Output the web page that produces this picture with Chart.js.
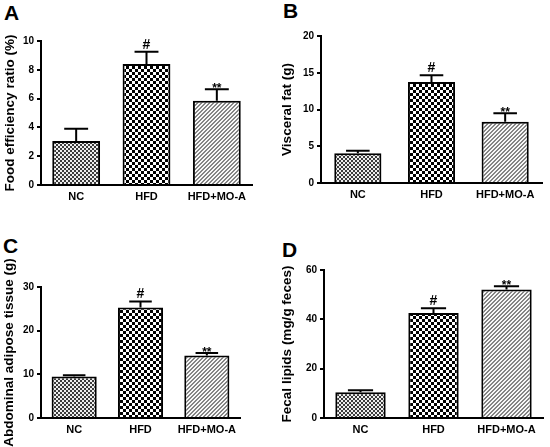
<!DOCTYPE html>
<html>
<head>
<meta charset="utf-8">
<script src="https://cdn.jsdelivr.net/npm/chart.js@4"></script>
<style>
    body { margin: 0; background: #fff; }
    #wrap { position: relative; width: 550px; height: 447px; font-family: "Liberation Sans", Arial, sans-serif; }
    .panel { position: absolute; }
    .letter { position: absolute; font-weight: bold; font-size: 21px; color: #000; }
</style>
</head>
<body>
<div id="wrap">
    <div class="letter" style="left:4px;top:1px">A</div>
    <div class="letter" style="left:283px;top:-1px">B</div>
    <div class="letter" style="left:3px;top:234px">C</div>
    <div class="letter" style="left:282px;top:238px">D</div>
    <div class="panel" style="left:0;top:0;width:275px;height:220px"><canvas id="chartA"></canvas></div>
    <div class="panel" style="left:275px;top:0;width:275px;height:220px"><canvas id="chartB"></canvas></div>
    <div class="panel" style="left:0;top:220px;width:275px;height:227px"><canvas id="chartC"></canvas></div>
    <div class="panel" style="left:275px;top:220px;width:275px;height:227px"><canvas id="chartD"></canvas></div>
</div>
<script>
// groups
const groups = ["NC", "HFD", "HFD+MO-A"];
const marks = ["", "#", "**"];

// A: food efficiency ratio
const foodEfficiency = [3.05, 8.4, 5.85];
const foodEfficiencyErr = [0.85, 0.85, 0.8];

// B: visceral fat
const visceralFat = [4.05, 13.75, 8.35];
const visceralFatErr = [0.35, 0.9, 1.15];

// C: abdominal adipose tissue
const abdominalFat = [9.5, 25.3, 14.3];
const abdominalFatErr = [0.3, 1.4, 0.6];

// D: fecal lipids
const fecalLipids = [10.4, 42.6, 52.1];
const fecalLipidsErr = [0.8, 1.9, 1.3];

function makePattern(kind) {
    let c = document.createElement("canvas");
    let g = c.getContext("2d");
    if (kind === "fine") {
        c.width = 4; c.height = 4;
        g.fillStyle = "#eeeeee"; g.fillRect(0, 0, 4, 4);
        g.fillStyle = "#3c3c3c";
        g.fillRect(0, 0, 2, 2); g.fillRect(2, 2, 2, 2);
    } else if (kind === "coarse") {
        c.width = 6; c.height = 6;
        g.fillStyle = "#ffffff"; g.fillRect(0, 0, 6, 6);
        g.fillStyle = "#000000";
        g.fillRect(0, 0, 3, 3); g.fillRect(3, 3, 3, 3);
    } else {
        c.width = 4; c.height = 4;
        g.fillStyle = "#f8f8f8"; g.fillRect(0, 0, 4, 4);
        g.fillStyle = "#858585";
        for (let x = 0; x < 4; x++) {
            for (let y = 0; y < 4; y++) {
                if ((x + y) % 4 === 3 || (x + y) % 4 === 0) g.fillRect(x, y, 1, 1);
            }
        }
    }
    return g.createPattern(c, "repeat");
}

const fills = [makePattern("fine"), makePattern("coarse"), makePattern("hatch")];

// error bars + significance marks, positioned from the chart's scales
const errorBarPlugin = {
    id: "errorBars",
    afterDatasetsDraw(chart) {
        let ctx = chart.ctx;
        let meta = chart.getDatasetMeta(0);
        let yScale = chart.scales.y;
        let errs = chart.options.plugins.errorBars.errors;
        ctx.save();
        ctx.strokeStyle = "#000";
        ctx.lineWidth = 2;
        meta.data.forEach((bar, i) => {
            let v = chart.data.datasets[0].data[i];
            let yTop = yScale.getPixelForValue(v + errs[i]);
            let half = bar.width * 0.25;
            ctx.beginPath();
            ctx.moveTo(bar.x, bar.y);
            ctx.lineTo(bar.x, yTop);
            ctx.moveTo(bar.x - half, yTop);
            ctx.lineTo(bar.x + half, yTop);
            ctx.stroke();
            if (marks[i]) {
                ctx.fillStyle = "#000";
                ctx.textAlign = "center";
                ctx.textBaseline = "alphabetic";
                if (marks[i] === "#") {
                    ctx.font = "bold 14px 'Liberation Sans', Arial, sans-serif";
                    ctx.fillText(marks[i], bar.x, yTop - 3);
                } else {
                    ctx.font = "bold 12px 'Liberation Sans', Arial, sans-serif";
                    ctx.fillText(marks[i], bar.x, yTop + 3);
                }
            }
        });
        ctx.restore();
    }
};

function buildChart(id, values, errors, yTitle, yMax, yStep, pad, axisW, axisH, barPct) {
    let ctx = document.getElementById(id).getContext("2d");
    return new Chart(ctx, {
        type: "bar",
        data: {
            labels: groups,
            datasets: [{
                data: values,
                backgroundColor: fills,
                borderColor: "#000",
                borderWidth: 2,
                borderSkipped: "bottom",
                barPercentage: barPct,
                categoryPercentage: 1
            }]
        },
        options: {
            responsive: true,
            maintainAspectRatio: false,
            animation: false,
            events: [],
            layout: { padding: pad },
            plugins: {
                legend: { display: false },
                tooltip: { enabled: false },
                errorBars: { errors: errors }
            },
            scales: {
                x: {
                    afterFit: (s) => { s.height = axisH; },
                    grid: { display: true, drawOnChartArea: false, drawTicks: false, color: "rgba(0,0,0,0)" },
                    border: { display: true, color: "#000", width: 2 },
                    ticks: {
                        color: "#000",
                        padding: 5,
                        maxRotation: 0,
                        font: { family: "'Liberation Sans', Arial, sans-serif", size: 11, weight: "bold" }
                    }
                },
                y: {
                    min: 0,
                    max: yMax,
                    afterFit: (s) => { s.width = axisW; },
                    grid: { display: true, drawOnChartArea: false, drawTicks: true, tickLength: 4, color: "#000", lineWidth: 2 },
                    border: { display: true, color: "#000", width: 2 },
                    ticks: {
                        stepSize: yStep,
                        color: "#000",
                        padding: 3,
                        font: { family: "'Liberation Sans', Arial, sans-serif", size: 10, weight: "bold" }
                    },
                    title: {
                        display: true,
                        text: yTitle,
                        color: "#000",
                        padding: { top: 0, bottom: 0 },
                        font: { family: "'Liberation Sans', Arial, sans-serif", size: 13.5, weight: "bold" }
                    }
                }
            }
        },
        plugins: [errorBarPlugin]
    });
}

buildChart("chartA", foodEfficiency, foodEfficiencyErr, "Food efficiency ratio (%)", 10, 2,
    { left: 2, top: 41, right: 23, bottom: 0 }, 39, 35, 0.68);
buildChart("chartB", visceralFat, visceralFatErr, "Visceral fat (g)", 20, 5,
    { left: 4, top: 36, right: 8, bottom: 0 }, 42, 37, 0.64);
buildChart("chartC", abdominalFat, abdominalFatErr, "Abdominal adipose tissue (g)", 30, 10,
    { left: 1, top: 67, right: 35, bottom: 0 }, 40, 29, 0.68);
buildChart("chartD", fecalLipids, fecalLipidsErr, "Fecal lipids (mg/g feces)", 60, 20,
    { left: 4, top: 50, right: 7, bottom: 0 }, 45, 29, 0.69);
</script>
</body>
</html>
